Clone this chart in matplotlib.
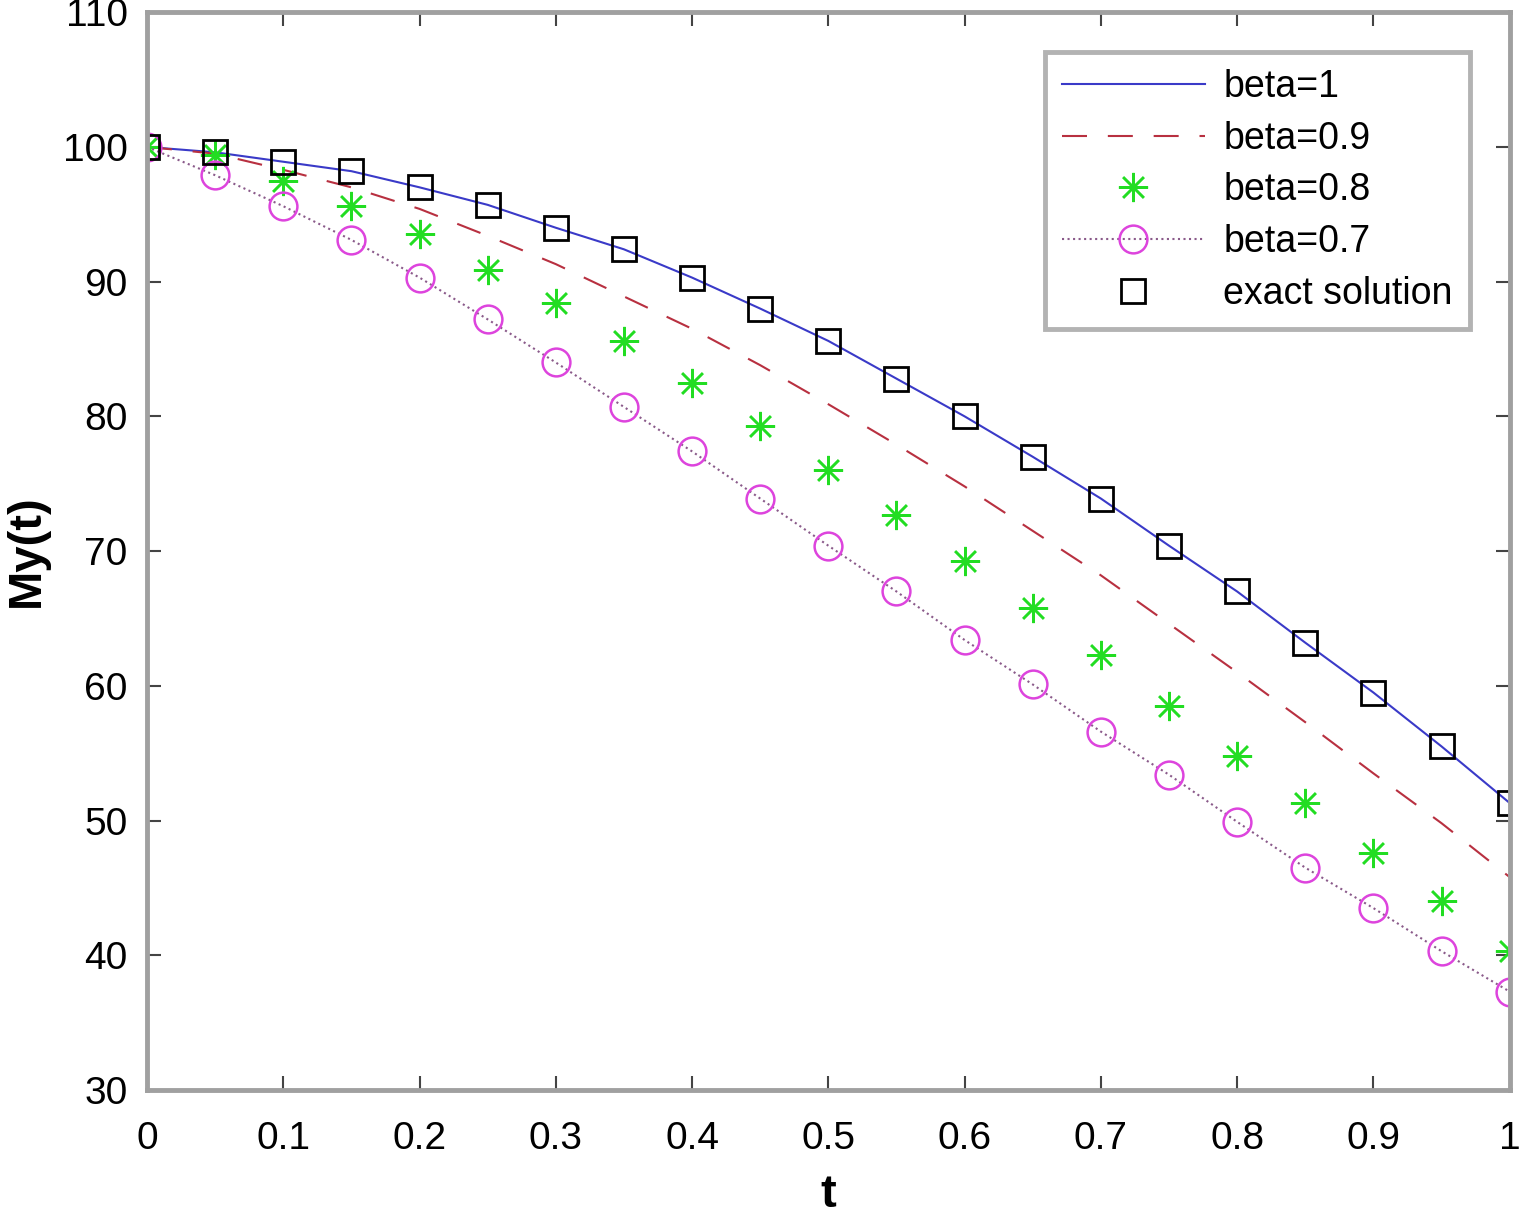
import numpy as np
import matplotlib.pyplot as plt

plt.rcParams['font.family'] = ['Liberation Sans', 'DejaVu Sans']

t = [0, 0.05, 0.1, 0.15, 0.2, 0.25, 0.3, 0.35, 0.4, 0.45, 0.5,
     0.55, 0.6, 0.65, 0.7, 0.75, 0.8, 0.85, 0.9, 0.95, 1.0]

# exact solution / beta=1
exact = [100, 99.6, 98.9, 98.2, 97.0, 95.7, 94.0, 92.4, 90.3, 88.0, 85.6,
         82.8, 80.0, 77.0, 73.9, 70.4, 67.0, 63.2, 59.5, 55.5, 51.3]
beta09 = [100, 99.5, 98.3, 97.0, 95.4, 93.4, 91.3, 88.9, 86.5, 83.8, 80.9,
          77.9, 74.8, 71.5, 68.2, 64.6, 61.0, 57.3, 53.5, 49.8, 45.8]
beta08 = [100, 99.4, 97.5, 95.6, 93.5, 90.9, 88.4, 85.6, 82.5, 79.3, 76.0,
          72.7, 69.3, 65.8, 62.3, 58.5, 54.8, 51.3, 47.6, 44.0, 40.3]
beta07 = [100, 97.9, 95.6, 93.1, 90.3, 87.2, 84.0, 80.7, 77.4, 73.9, 70.4,
          67.0, 63.4, 60.1, 56.6, 53.4, 49.9, 46.5, 43.5, 40.3, 37.3]

fig = plt.figure(figsize=(15.28, 12.2), dpi=100)
ax = fig.add_axes([0.0962, 0.1066, 0.8918, 0.8834])

ax.plot(t, exact, '-', color='#3a3ac8', lw=1.5, label='beta=1')
ax.plot(t, beta09, '--', color='#b83040', lw=1.5, dashes=(12, 10), label='beta=0.9')
ax.plot(t, beta08, ls='none', marker=(8, 2, 0), ms=21, mew=1.8, color='#22dd22', label='beta=0.8')
ax.plot(t, beta07, ls=':', color='#8a5a8a', lw=1.5, marker='o', ms=20, mfc='none',
        mec='#dd44dd', mew=1.8, label='beta=0.7')
ax.plot(t, exact, ls='none', marker='s', ms=17, mfc='none', mec='black', mew=2,
        label='exact solution')

ax.set_xlim(0, 1)
ax.set_ylim(30, 110)
ax.set_xticks(np.arange(0, 1.01, 0.1))
ax.set_xticklabels(['0', '0.1', '0.2', '0.3', '0.4', '0.5', '0.6', '0.7', '0.8', '0.9', '1'])
ax.set_yticks(range(30, 111, 10))
ax.tick_params(direction='in', length=10, width=1.5, color='#444444', labelsize=28,
               top=True, right=True)
ax.tick_params(axis='x', pad=22)
ax.tick_params(axis='y', pad=14)
for s in ax.spines.values():
    s.set_color('#a0a0a0')
    s.set_linewidth(3.5)

ax.set_xlabel('t', fontsize=34, fontweight='bold', labelpad=12)
ax.set_ylabel('My(t)', fontsize=34, fontweight='bold', labelpad=10)

leg = ax.legend(loc='upper right', bbox_to_anchor=(0.9707, 0.963), borderaxespad=0,
                fontsize=27, handlelength=3.8, borderpad=0.45, labelspacing=0.42,
                fancybox=False, handletextpad=0.5)
leg.get_frame().set_edgecolor('#a0a0a0')
leg.get_frame().set_linewidth(3.5)

fig.savefig('out.png', dpi=100)
